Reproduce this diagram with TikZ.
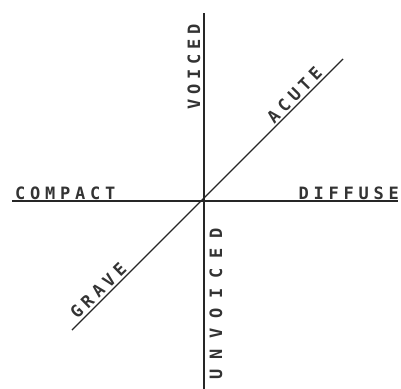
\documentclass[tikz,border=0pt]{standalone}
\usepackage{fontspec}
\newfontfamily\handfont[LetterSpace=28]{DejaVu Sans Mono}
\newfontfamily\handwide[LetterSpace=58]{DejaVu Sans Mono}
\usetikzlibrary{positioning}

\begin{document}
\begin{tikzpicture}[x=1pt, y=-1pt,
    axis/.style={line width=1.4pt, black!85},
    lbl/.style={font=\handfont\bfseries\fontsize{17}{17}\selectfont, text=black!80, inner sep=0pt},
    lblwide/.style={lbl, font=\handwide\bfseries\fontsize{17}{17}\selectfont}]
  \useasboundingbox (0,0) rectangle (401,388);

  % the three axes
  \coordinate (o) at (204,201);
  \coordinate (top) at (204,13);
  \coordinate (bot) at (204,390);
  \coordinate (left) at (12,201);
  \coordinate (right) at (398,201);
  \coordinate (sw) at (72,330);
  \coordinate (ne) at (343,59);
  \draw[axis] (top) -- (bot);
  \draw[axis] (left) -- (right);
  \draw[axis] (sw) -- (ne);

  % labels
  \node[lbl, anchor=base west] (compact) at (15,199) {COMPACT};
  \node[lbl, anchor=base east] (diffuse) at (399,199) {DIFFUSE};
  \node[lbl, rotate=90, anchor=base west] (voiced) at (200,110) {VOICED};
  \node[lblwide, rotate=90, anchor=base east] (unvoiced) at (222,228) {UNVOICED};
  \path (o) -- (ne) node[lbl, sloped, above=3pt, pos=0.70] (acute) {ACUTE};
  \path (sw) -- (o) node[lbl, sloped, above=3pt, pos=0.25] (grave) {GRAVE};
\end{tikzpicture}
\end{document}
